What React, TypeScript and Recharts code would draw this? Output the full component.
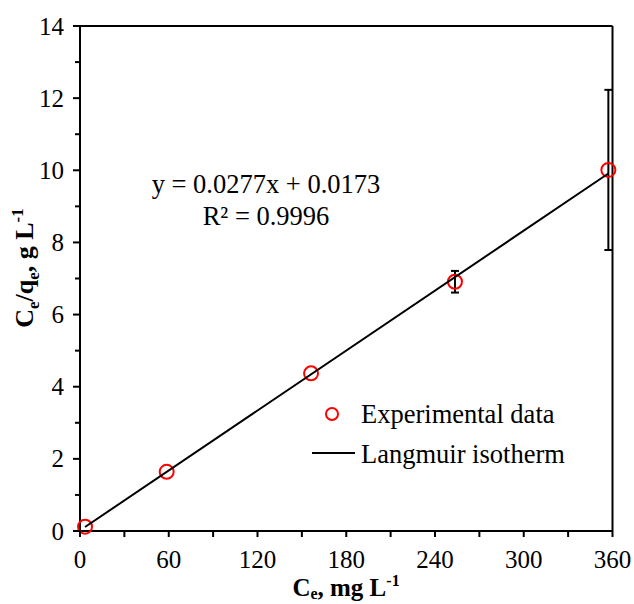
import { ScatterChart, Scatter, XAxis, YAxis, ErrorBar, ReferenceLine, Legend } from "recharts";

const FONT = "Liberation Serif";

// experimental points (Ce, Ce/qe) with standard deviation
const ceValues = [3.4, 58.6, 156.2, 253.5, 357.2];
const ratioValues = [0.12, 1.64, 4.37, 6.91, 10.01];
const errValues = [null, null, null, 0.3, 2.22];

// Langmuir fit line end points
const fitX = [3.4, 357.2];
const fitY = [0.11, 9.91];

const xTicks = [0, 30, 60, 90, 120, 150, 180, 210, 240, 270, 300, 330, 360];
const yTicks = [0, 1, 2, 3, 4, 5, 6, 7, 8, 9, 10, 11, 12, 13, 14];

const points = ceValues.map((x, i) => ({ x, y: ratioValues[i], err: errValues[i] }));
const fitLine = fitX.map((x, i) => ({ x, y: fitY[i] }));

const txt = { fontFamily: FONT, fill: "#000" };

const XTick = ({ x, y, payload }: any) => {
  const major = payload.value % 60 === 0;
  return (
    <g>
      <line x1={x} x2={x} y1={y} y2={y + 6} stroke="#000" strokeWidth={2} />
      {major && (
        <text x={x} y={y + 37} textAnchor="middle" fontSize={25} style={txt}>
          {payload.value}
        </text>
      )}
    </g>
  );
};

const YTick = ({ x, y, payload }: any) => {
  const major = payload.value % 2 === 0;
  return (
    <g>
      <line x1={x - (major ? 7 : 5)} x2={x} y1={y} y2={y} stroke="#000" strokeWidth={2} />
      {major && (
        <text x={x - 16} y={y + 8.5} textAnchor="end" fontSize={25} style={txt}>
          {payload.value}
        </text>
      )}
    </g>
  );
};

const YTitle = () => (
  <text
    x={33}
    y={268}
    transform="rotate(-90, 33, 268)"
    textAnchor="middle"
    fontWeight="bold"
    fontSize={26}
    style={txt}
  >
    C<tspan dy={6} fontSize={17}>e</tspan>
    <tspan dy={-6}>/q</tspan>
    <tspan dy={6} fontSize={17}>e</tspan>
    <tspan dy={-6}>, g L</tspan>
    <tspan dy={-10} fontSize={17}>-1</tspan>
  </text>
);

const XTitle = () => (
  <text x={346} y={596} textAnchor="middle" fontWeight="bold" fontSize={25} style={txt}>
    C<tspan dy={3} fontSize={16}>e</tspan>
    <tspan dy={-3}>, mg L</tspan>
    <tspan dy={-10} fontSize={16}>-1</tspan>
  </text>
);

const Equation = () => (
  <g>
    <text x={266} y={193} textAnchor="middle" fontSize={26.5} style={txt}>y = 0.0277x + 0.0173</text>
    <text x={266} y={225} textAnchor="middle" fontSize={26.5} style={txt}>R² = 0.9996</text>
  </g>
);

const LegendBox = () => (
  <svg width={320} height={80} style={{ display: "block" }}>
    <circle cx={32} cy={19} r={6} fill="none" stroke="#ff0000" strokeWidth={2} />
    <text x={61} y={28} fontSize={26.5} style={txt}>Experimental data</text>
    <line x1={12} x2={55} y1={58} y2={58} stroke="#000" strokeWidth={2} />
    <text x={61} y={68} fontSize={26.5} style={txt}>Langmuir isotherm</text>
  </svg>
);

const Ring = ({ cx, cy }: any) => (
  <circle cx={cx} cy={cy} r={7} fill="none" stroke="#ff0000" strokeWidth={2} />
);

export default function App() {
  return (
    <div style={{ position: "absolute", left: 0, top: 0, background: "#fff" }}>
      <ScatterChart width={634} height={604} margin={{ top: 26, right: 21.5, left: 0, bottom: 0 }}>
        <XAxis
          type="number"
          dataKey="x"
          domain={[0, 360]}
          ticks={xTicks}
          interval={0}
          height={73}
          tickSize={0}
          tickMargin={0}
          tickLine={false}
          tick={<XTick />}
          axisLine={{ stroke: "#000", strokeWidth: 2 }}
          label={<XTitle />}
        />
        <YAxis
          type="number"
          dataKey="y"
          domain={[0, 14]}
          ticks={yTicks}
          interval={0}
          width={80}
          tickSize={0}
          tickMargin={0}
          tickLine={false}
          tick={<YTick />}
          axisLine={{ stroke: "#000", strokeWidth: 2 }}
          label={<YTitle />}
        />
        <ReferenceLine y={14} stroke="#000" strokeWidth={2} label={<Equation />} />
        <ReferenceLine x={360} stroke="#000" strokeWidth={2} />
        <Scatter data={points} shape={<Ring />} isAnimationActive={false}>
          <ErrorBar dataKey="err" direction="y" width={4} stroke="#000" strokeWidth={2} />
        </Scatter>
        <Scatter
          data={fitLine}
          line={{ stroke: "#000", strokeWidth: 2 }}
          shape={() => null}
          isAnimationActive={false}
        />
        <Legend
          layout="vertical"
          align="center"
          verticalAlign="middle"
          content={<LegendBox />}
          wrapperStyle={{ left: 300, top: 395, width: 320 }}
        />
      </ScatterChart>
    </div>
  );
}
